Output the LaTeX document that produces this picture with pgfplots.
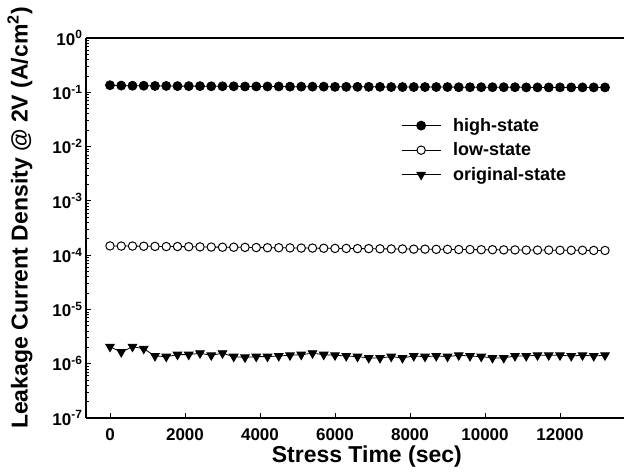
\documentclass[border=0pt]{standalone}
\usepackage{pgfplots}
\pgfplotsset{compat=1.18}
\usepackage{pgfplotstable}
\usepackage{fontspec}
\setmainfont{Liberation Sans}
\pgfplotstableread{
x y
0 0.135
300 0.133
600 0.132
900 0.132
1200 0.131
1500 0.131
1800 0.130
2100 0.130
2400 0.130
2700 0.129
3000 0.129
3300 0.129
3600 0.128
3900 0.128
4200 0.128
4500 0.128
4800 0.127
5100 0.127
5400 0.127
5700 0.127
6000 0.126
6300 0.126
6600 0.126
6900 0.126
7200 0.126
7500 0.125
7800 0.125
8100 0.125
8400 0.125
8700 0.125
9000 0.125
9300 0.124
9600 0.124
9900 0.124
10200 0.124
10500 0.124
10800 0.124
11100 0.123
11400 0.123
11700 0.123
12000 0.123
12300 0.123
12600 0.123
12900 0.123
13200 0.123
}\high
\pgfplotstableread{
x y
0 1.48e-4
300 1.47e-4
600 1.47e-4
900 1.46e-4
1200 1.45e-4
1500 1.44e-4
1800 1.44e-4
2100 1.43e-4
2400 1.42e-4
2700 1.41e-4
3000 1.40e-4
3300 1.40e-4
3600 1.39e-4
3900 1.38e-4
4200 1.37e-4
4500 1.37e-4
4800 1.36e-4
5100 1.35e-4
5400 1.35e-4
5700 1.34e-4
6000 1.33e-4
6300 1.33e-4
6600 1.32e-4
6900 1.32e-4
7200 1.31e-4
7500 1.30e-4
7800 1.30e-4
8100 1.29e-4
8400 1.29e-4
8700 1.28e-4
9000 1.28e-4
9300 1.27e-4
9600 1.27e-4
9900 1.26e-4
10200 1.26e-4
10500 1.25e-4
10800 1.25e-4
11100 1.24e-4
11400 1.24e-4
11700 1.24e-4
12000 1.23e-4
12300 1.23e-4
12600 1.23e-4
12900 1.22e-4
13200 1.22e-4
}\low
\pgfplotstableread{
x y
0 2.06e-6
300 1.64e-6
600 2.06e-6
900 1.89e-6
1200 1.39e-6
1500 1.35e-6
1800 1.47e-6
2100 1.47e-6
2400 1.56e-6
2700 1.43e-6
3000 1.56e-6
3300 1.35e-6
3600 1.31e-6
3900 1.35e-6
4200 1.35e-6
4500 1.39e-6
4800 1.43e-6
5100 1.47e-6
5400 1.56e-6
5700 1.47e-6
6000 1.43e-6
6300 1.39e-6
6600 1.35e-6
6900 1.28e-6
7200 1.28e-6
7500 1.35e-6
7800 1.28e-6
8100 1.39e-6
8400 1.35e-6
8700 1.39e-6
9000 1.35e-6
9300 1.43e-6
9600 1.39e-6
9900 1.35e-6
10200 1.28e-6
10500 1.28e-6
10800 1.39e-6
11100 1.39e-6
11400 1.43e-6
11700 1.43e-6
12000 1.43e-6
12300 1.39e-6
12600 1.43e-6
12900 1.39e-6
13200 1.43e-6
}\orig
\begin{document}
\begin{tikzpicture}
\useasboundingbox (0,0) rectangle (624pt,475pt);
\begin{axis}[
  at={(86pt,57pt)}, anchor=south west,
  scale only axis, width=538pt, height=380pt,
  ymode=log, ymin=1e-7, ymax=1,
  xmin=-640, xmax=13707,
  axis x line*=box, axis y line*=left,
  xtick={0,2000,...,12000},
  scaled x ticks=false,
  xtick pos=bottom, ytick pos=left,
  tick align=inside,
  major tick length=5pt, minor tick length=3pt,
  axis line style={line width=1.5pt},
  every tick/.style={black, line width=0.8pt},
  ytick={1e-7,1e-6,1e-5,1e-4,1e-3,1e-2,1e-1,1},
  yticklabels={10\textsuperscript{-7},10\textsuperscript{-6},10\textsuperscript{-5},10\textsuperscript{-4},10\textsuperscript{-3},10\textsuperscript{-2},10\textsuperscript{-1},10\textsuperscript{0}},
  /pgf/number format/assume math mode=true,
  tick label style={font=\fontsize{17}{19}\selectfont\bfseries},
  xticklabel style={/pgf/number format/1000 sep={}, inner sep=0pt, yshift=-10pt},
  xlabel={Stress Time (sec)},
  ylabel={Leakage Current Density @ 2V (A/cm\textsuperscript{2})},
  label style={font=\fontsize{23}{25}\selectfont\bfseries},
  xlabel style={at={(axis description cs:0.522,-0.1158)}, anchor=base, inner sep=0pt},
  ylabel style={at={(axis description cs:-0.1227,0.526)}, anchor=center},
  legend cell align=left,
  legend style={draw=none, fill=none, at={(0.58,0.797)}, anchor=north west,
    font=\fontsize{18}{20}\selectfont\bfseries, row sep=8pt,
    nodes={inner sep=1pt},
    /tikz/every odd column/.append style={column sep=11pt}},
  legend image code/.code={\draw[mark repeat=2,mark phase=2,#1] plot coordinates {(0pt,0pt)(19.5pt,0pt)(39pt,0pt)};},
]
\addplot[black, line width=0.8pt, mark=*, mark size=4.5pt, mark options={solid, fill=black}] table {\high};
\addlegendentry{high-state}
\addplot[black, line width=0.8pt, mark=*, mark size=4.2pt, mark options={solid, fill=white, line width=1pt}] table {\low};
\addlegendentry{low-state}
\addplot[black, line width=0.8pt, mark=triangle*, mark size=5pt, mark options={solid, fill=black, rotate=180}] table {\orig};
\addlegendentry{original-state}
\end{axis}
\end{tikzpicture}
\end{document}
